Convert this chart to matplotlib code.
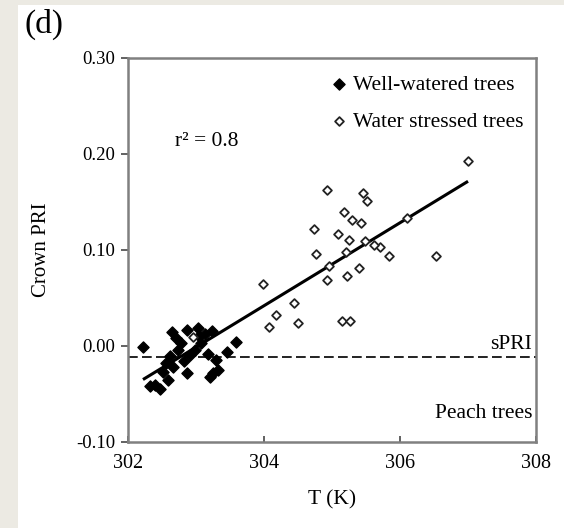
import numpy as np
import matplotlib.pyplot as plt
from matplotlib.patches import Rectangle

# well-watered trees (filled diamonds)
t_watered = [302.22, 302.64, 302.86, 303.03, 303.23, 302.78, 303.08, 302.74, 302.98,
             303.18, 302.61, 302.91, 303.30, 302.56, 302.66, 302.51, 302.86, 303.25,
             303.20, 303.32, 302.39, 302.47, 302.59, 302.32, 303.59, 303.45, 303.13,
             302.70, 303.05, 302.82]
pri_watered = [-0.001, 0.015, 0.017, 0.019, 0.016, 0.003, 0.003, -0.004, -0.004,
               -0.008, -0.011, -0.009, -0.015, -0.018, -0.022, -0.027, -0.028, -0.028,
               -0.032, -0.025, -0.041, -0.045, -0.035, -0.042, 0.004, -0.006, 0.012,
               0.008, 0.010, -0.016]

# water stressed trees (open diamonds)
t_stressed = [307.00, 304.92, 305.45, 305.52, 305.18, 305.29, 305.42, 304.74, 305.09,
              305.25, 305.49, 305.71, 305.84, 304.76, 305.21, 305.61, 306.53, 305.39,
              305.22, 304.93, 303.99, 304.44, 304.18, 304.07, 304.50, 305.14, 305.26,
              304.95, 306.10, 302.96]
pri_stressed = [0.193, 0.162, 0.159, 0.151, 0.140, 0.131, 0.128, 0.122, 0.117,
                0.110, 0.109, 0.103, 0.094, 0.096, 0.098, 0.105, 0.094, 0.081,
                0.073, 0.069, 0.064, 0.045, 0.032, 0.020, 0.024, 0.026, 0.026,
                0.083, 0.133, 0.009]

# regression line and threshold
fit_t = [302.22, 307.00]
fit_slope = 0.0432
fit_intercept = -0.035 - 0.0432 * 302.22
spri = -0.012

x_ticks = [302, 304, 306, 308]
y_ticks = [-0.10, 0.00, 0.10, 0.20, 0.30]

plt.rcParams['font.family'] = ['Liberation Serif', 'DejaVu Serif']

fig = plt.figure(figsize=(5.64, 5.28), dpi=100)
fig.patch.set_facecolor('#ECEAE3')
fig.patches.append(Rectangle((18 / 564, 0), 1, 1 - 5 / 528, transform=fig.transFigure,
                             facecolor='white', edgecolor='none', zorder=-1))

ax = fig.add_axes([0.227, 0.163, 0.7234, 0.7273])
ax.set_xlim(302, 308)
ax.set_ylim(-0.10, 0.30)

ax.axhline(spri, color='#222222', lw=1.4, dashes=(5, 2.2))

fit_x = np.array(fit_t)
ax.plot(fit_x, fit_intercept + fit_slope * fit_x, color='black', lw=2.2,
        solid_capstyle='butt', zorder=3)

ax.scatter(t_watered, pri_watered, marker='D', s=32, color='black', zorder=4,
           label='Well-watered trees')
ax.scatter(t_stressed, pri_stressed, marker='D', s=20, facecolor='white',
           edgecolor='#222222', linewidths=1.3, zorder=4, label='Water stressed trees')

ax.set_xticks(x_ticks)
ax.set_xticklabels([str(v) for v in x_ticks], fontsize=14.5)
ax.set_yticks(y_ticks)
ax.set_yticklabels([f'{v:.2f}' for v in y_ticks], fontsize=13.5)
ax.tick_params(axis='x', direction='in', length=4, width=1.3, color='#555555', pad=9)
ax.tick_params(axis='y', direction='out', length=5, width=1.3, color='#555555', pad=4)
for s in ax.spines.values():
    s.set_color('#808080')
    s.set_linewidth(1.8)

ax.set_xlabel('T (K)', fontsize=15.5)
ax.xaxis.set_label_coords(0.5, -0.125)
ax.set_ylabel('Crown PRI', fontsize=15)
ax.yaxis.set_label_coords(-0.189, 0.5)

ax.text(302.69, 0.2125, 'r² = 0.8', fontsize=15.5, va='center', ha='left')
ax.text(307.94, spri + 0.004, 'sPRI', fontsize=15.5, va='bottom', ha='right')
ax.text(307.95, -0.07, 'Peach trees', fontsize=15.5, va='center', ha='right')

ax.legend(loc='upper left', bbox_to_anchor=(0.499, 0.956), frameon=False,
          fontsize=15.5, handlelength=0.7, handletextpad=0.3, labelspacing=0.77,
          borderpad=0, borderaxespad=0)

fig.text(0.0426, 0.9545, '(d)', fontsize=24, va='center', ha='left')

fig.savefig('out.png', dpi=100, facecolor=fig.get_facecolor())
